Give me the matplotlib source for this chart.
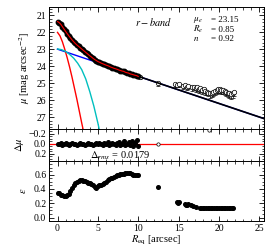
import numpy as np
import matplotlib
matplotlib.use("Agg")
import matplotlib.pyplot as plt
from matplotlib.ticker import MultipleLocator

plt.rcParams['font.family'] = ['Liberation Serif', 'DejaVu Serif']
plt.rcParams['mathtext.fontset'] = 'stix'
plt.rcParams['font.size'] = 7

# inner profile (black dots, 0-10 arcsec)
r_in = [0.0, 0.2, 0.4, 0.6, 0.8, 1.0, 1.2, 1.4, 1.6, 1.8, 2.0, 2.2, 2.4, 2.6, 2.8,
        3.0, 3.2, 3.4, 3.6, 3.8, 4.0, 4.2, 4.4, 4.6, 4.8, 5.0, 5.2, 5.4, 5.6, 5.8,
        6.0, 6.2, 6.4, 6.6, 6.8, 7.0, 7.2, 7.4, 7.6, 7.8, 8.0, 8.2, 8.4, 8.6, 8.8,
        9.0, 9.2, 9.4, 9.6, 9.8, 10.0]
mu_in = [21.36, 21.42, 21.52, 21.66, 21.80, 21.94, 22.07, 22.20, 22.32, 22.44, 22.55,
         22.65, 22.74, 22.82, 22.90, 22.98, 23.06, 23.14, 23.22, 23.30, 23.38, 23.45,
         23.53, 23.60, 23.66, 23.72, 23.76, 23.81, 23.85, 23.89, 23.93, 23.96, 24.00,
         24.05, 24.08, 24.12, 24.15, 24.18, 24.22, 24.25, 24.28, 24.30, 24.35, 24.38,
         24.40, 24.45, 24.47, 24.50, 24.53, 24.55, 24.60]
dmu_in = [0.00, 0.01, -0.01, 0.02, 0.00, -0.01, 0.01, 0.02, 0.00, -0.01, 0.01,
          0.00, 0.02, 0.01, -0.01, 0.00, 0.01, 0.02, 0.00, -0.02, 0.01, 0.00,
          0.02, 0.01, -0.01, 0.00, -0.02, 0.01, 0.02, -0.01, 0.00, -0.03, 0.02,
          0.01, -0.02, 0.00, 0.03, -0.01, -0.04, 0.02, 0.00, -0.05, 0.03, 0.01,
          -0.03, 0.02, -0.06, 0.04, -0.02, -0.07, 0.05]
eps_in = [0.35, 0.34, 0.32, 0.31, 0.30, 0.30, 0.31, 0.33, 0.37, 0.41, 0.45,
          0.48, 0.50, 0.51, 0.52, 0.52, 0.51, 0.51, 0.50, 0.49, 0.48, 0.47,
          0.45, 0.43, 0.42, 0.44, 0.46, 0.46, 0.47, 0.48, 0.50, 0.53, 0.54,
          0.55, 0.56, 0.57, 0.58, 0.59, 0.60, 0.61, 0.61, 0.61, 0.62, 0.62,
          0.62, 0.62, 0.61, 0.60, 0.60, 0.60, 0.60]

# outer profile (open circles)
r_out = [10.2, 12.4, 14.6, 14.8, 15.0, 15.6, 15.8, 16.0, 16.2, 16.7, 16.9, 17.1,
         17.3, 17.5, 17.7, 17.9, 18.1, 18.3, 18.5, 18.7, 18.9, 19.1, 19.3, 19.5,
         19.7, 19.9, 20.1, 20.3, 20.5, 20.7, 20.9, 21.1, 21.3, 21.5, 21.7, 21.9]
mu_out = [24.65, 25.00, 25.05, 25.10, 25.05, 25.15, 25.10, 25.20, 25.15, 25.25,
          25.20, 25.30, 25.25, 25.35, 25.30, 25.40, 25.35, 25.45, 25.50, 25.55,
          25.60, 25.55, 25.50, 25.45, 25.40, 25.35, 25.35, 25.40, 25.40, 25.45,
          25.50, 25.55, 25.60, 25.65, 25.60, 25.50]
err_out = [0.12, 0.15, 0.15, 0.15, 0.15, 0.18, 0.18, 0.18, 0.18, 0.2, 0.2, 0.2,
           0.2, 0.2, 0.2, 0.22, 0.22, 0.22, 0.22, 0.22, 0.25, 0.25, 0.25, 0.25,
           0.25, 0.25, 0.25, 0.25, 0.25, 0.25, 0.25, 0.28, 0.28, 0.28, 0.28, 0.28]
r_dout = [12.4, 18.8]
dmu_out = [0.0, -0.27]
r_eout = [12.4, 14.8, 14.9, 15.0, 15.8, 15.9, 16.0, 16.2, 16.6, 16.8, 17.2,
          17.6, 17.8, 18.0, 18.2, 18.4, 18.6, 18.8, 19.0, 19.2, 19.4, 19.6,
          19.8, 20.0, 20.2, 20.4, 20.6, 20.8, 21.0, 21.2, 21.4, 21.6, 21.8]
eps_out = [0.43, 0.22, 0.21, 0.22, 0.19, 0.18, 0.18, 0.19, 0.18, 0.16, 0.15,
           0.135, 0.135, 0.135, 0.135, 0.135, 0.135, 0.135, 0.135, 0.135, 0.135,
           0.135, 0.135, 0.135, 0.135, 0.135, 0.135, 0.135, 0.135, 0.135, 0.135,
           0.135, 0.135]

# model components
r_tot = [0.0, 0.5, 1.0, 1.5, 2.0, 2.5, 3.0, 3.5, 4.0, 4.5, 5.0, 5.5, 6.0, 8.0, 25.6]
mu_tot = [21.36, 21.62, 21.95, 22.27, 22.55, 22.78, 22.98, 23.17, 23.36, 23.54,
          23.70, 23.82, 23.94, 24.27, 27.09]
r_disk = [0.0, 25.6]
mu_disk = [22.99, 27.09]
r_bulge = [0.0, 0.3, 0.6, 0.9, 1.2, 1.5, 1.8, 2.1, 2.4, 2.7, 3.0, 3.25]
mu_bulge = [22.0, 22.2, 22.55, 23.0, 23.5, 24.05, 24.65, 25.3, 25.95, 26.65, 27.35, 27.9]
r_bar = [0.0, 0.5, 1.0, 1.5, 2.0, 2.5, 3.0, 3.5, 4.0, 4.5, 5.0, 5.25]
mu_bar = [22.98, 23.02, 23.12, 23.3, 23.52, 23.82, 24.2, 24.75, 25.5, 26.35, 27.35, 27.9]

fig = plt.figure(figsize=(2.74, 2.49), dpi=100)
L, W = 0.179, 0.785
ax1 = fig.add_axes([L, 0.482, W, 0.490])
ax2 = fig.add_axes([L, 0.353, W, 0.129])
ax3 = fig.add_axes([L, 0.112, W, 0.241])

for ax in (ax1, ax2, ax3):
    ax.set_xlim(-1.05, 25.6)
    ax.xaxis.set_major_locator(MultipleLocator(5))
    ax.xaxis.set_minor_locator(MultipleLocator(1))
    ax.tick_params(which='both', direction='in', top=True, right=True, labelsize=7, pad=2)
    ax.tick_params(which='major', length=3.5, width=0.6)
    ax.tick_params(which='minor', length=1.8, width=0.5)
    for s in ax.spines.values():
        s.set_linewidth(0.7)

# top panel
ax1.plot(r_disk, mu_disk, color='blue', lw=1.0, zorder=2)
ax1.plot(r_bulge, mu_bulge, color='red', lw=1.0, zorder=2)
ax1.plot(r_bar, mu_bar, color='c', lw=1.0, zorder=2)
ax1.errorbar(r_out, mu_out, yerr=[[0.03] * len(err_out), err_out], fmt='o', ms=3.2,
             mfc='white', mec='black', mew=0.5, ecolor='black', elinewidth=0.5,
             capsize=1.2, capthick=0.5, zorder=3)
ax1.plot(r_tot, mu_tot, color='black', lw=1.2, zorder=4)
ax1.plot(r_in, mu_in, 'o', color='black', ms=3.2, zorder=5)
ax1.plot(r_in, mu_in, '-', color='red', lw=0.8, zorder=6)
ax1.set_ylim(27.7, 20.5)
ax1.yaxis.set_major_locator(MultipleLocator(1))
ax1.yaxis.set_minor_locator(MultipleLocator(0.2))
ax1.set_xticklabels([])
ax1.set_ylabel(r'$\mu$ [mag arcsec$^{-2}$]', fontsize=7.5, labelpad=3)
ax1.text(0.40, 0.84, r'$r-band$', transform=ax1.transAxes, fontsize=7.5)
params = [(r'$\mu_e$', '23.15'), (r'$R_e$', '0.85'), (r'$n$', '0.92')]
for i, (k, v) in enumerate(params):
    y = 0.89 - i * 0.075
    ax1.text(0.67, y, k, transform=ax1.transAxes, fontsize=6.5, va='center')
    ax1.text(0.755, y, '= ' + v, transform=ax1.transAxes, fontsize=6.5, va='center')

# residual panel
ax2.axhline(0.0, color='red', lw=0.9, zorder=2)
ax2.plot(r_in, dmu_in, 'o', color='black', ms=2.6, zorder=3)
ax2.plot(r_dout, dmu_out, 'o', ms=2.4, mfc='white', mec='black', mew=0.5, zorder=3)
ax2.set_ylim(0.35, -0.3)
ax2.yaxis.set_major_locator(MultipleLocator(0.2))
ax2.yaxis.set_minor_locator(MultipleLocator(0.05))
ax2.set_xticklabels([])
ax2.set_ylabel(r'$\Delta\mu$', fontsize=7.5, labelpad=2)
ax2.text(0.47, -0.02, r'$\Delta_{rms}$ = 0.0179', transform=ax2.transAxes,
         ha='right', va='bottom', fontsize=7.5)

# ellipticity panel
ax3.plot(r_in, eps_in, 'o', color='black', ms=2.6)
ax3.plot(r_eout, eps_out, 'o', color='black', ms=2.6)
ax3.set_ylim(-0.05, 0.79)
ax3.yaxis.set_major_locator(MultipleLocator(0.2))
ax3.yaxis.set_minor_locator(MultipleLocator(0.05))
ax3.set_ylabel(r'$\epsilon$', fontsize=7.5, labelpad=4)
ax3.set_xlabel(r'$R_{\rm eq}$ [arcsec]', fontsize=7.5, labelpad=1)

fig.savefig('out.png', dpi=100)
